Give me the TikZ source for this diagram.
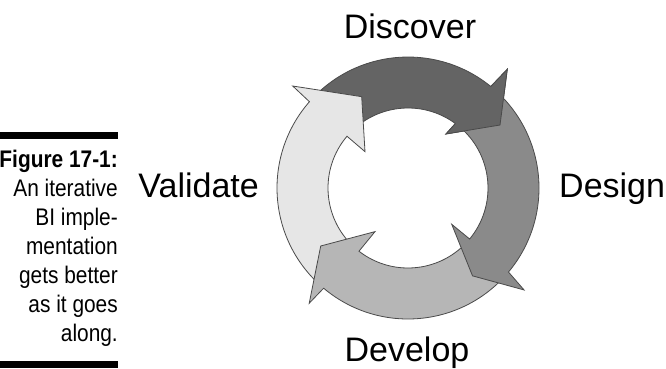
\documentclass[tikz,border=0pt]{standalone}
\usepackage{fontspec}
\setmainfont{Liberation Sans}
\newfontfamily\capfont[FakeStretch=0.87]{Liberation Sans}
\definecolor{cDisc}{HTML}{646464}
\definecolor{cDes}{HTML}{8A8A8A}
\definecolor{cDev}{HTML}{B6B6B6}
\definecolor{cVal}{HTML}{E6E6E6}
\definecolor{cEdge}{HTML}{4A4A4A}
\tikzset{
  arrowshape/.style={draw=cEdge, line width=0.8pt, line join=miter},
  label/.style={font=\fontsize{34}{40}\selectfont, inner sep=0pt, text=black},
  capline/.style={font=\capfont\fontsize{24}{29}\selectfont, inner sep=0pt, anchor=base east, text=black},
  bar/.style={fill=black, draw=none}
}
\begin{document}
\begin{tikzpicture}[x=1pt,y=1pt]
\useasboundingbox (0,0) rectangle (666,368);
\coordinate (C) at (408,180);
\begin{scope}[shift={(C)}]
  % Discover (dark)
  \filldraw[arrowshape, fill=cDisc] (135:131) arc[start angle=135,end angle=50.8,radius=131]
    -- (50.1:154.8) -- (34.4:111.5) -- (54.9:66) -- (53.7:80)
    arc[start angle=53.7,end angle=135,radius=80] -- cycle;
  % Validate (lightest)
  \filldraw[arrowshape, fill=cVal] (227:131) arc[start angle=227,end angle=138.8,radius=131]
    -- (138.5:153.9) -- (116.9:102.4) -- (139.8:56.3) -- (139.7:80)
    arc[start angle=139.7,end angle=227,radius=80] -- cycle;
  % Develop (light)
  \filldraw[arrowshape, fill=cDev] (316.5:131) arc[start angle=316.5,end angle=229.9,radius=131]
    -- (229.4:151.8) -- (213.6:104.8) -- (232.9:54.7) -- (232.2:80)
    arc[start angle=232.2,end angle=316.5,radius=80] -- cycle;
  % Design (medium)
  \filldraw[arrowshape, fill=cDes] (48:131) arc[start angle=48,end angle=-39.9,radius=131]
    -- (-41.3:154.5) -- (-53.7:109) -- (-39.7:56.8) -- (-39.6:80)
    arc[start angle=-39.6,end angle=48,radius=80] -- cycle;
  % Discover head on top of Design tail
  \fill[cDisc] (50.8:131) -- (50.1:154.8) -- (34.4:111.5) -- (54.9:66) -- (53.7:80) -- cycle;
  \draw[arrowshape] (50.8:131) -- (50.1:154.8) -- (34.4:111.5) -- (54.9:66) -- (53.7:80);
\end{scope}
% labels
\node[label, anchor=base] (disc) at (410,330) {Discover};
\node[label, anchor=base west] (des) at (559,171) {Design};
\node[label, anchor=base] (dev) at (407,7) {Develop};
\node[label, anchor=base east] (val) at (259,171) {Validate};
% caption
\fill[bar] (0,229) rectangle (118,236);
\node[capline] (c1) at (118,201) {\bfseries Figure 17-1:};
\node[capline] (c2) at (118,172) {An iterative};
\node[capline] (c3) at (118,143) {BI imple-};
\node[capline] (c4) at (118,114) {mentation};
\node[capline] (c5) at (118,85) {gets better};
\node[capline] (c6) at (118,56) {as it goes};
\node[capline] (c7) at (118,27) {along.};
\fill[bar] (0,0) rectangle (118,7);
\end{tikzpicture}
\end{document}
